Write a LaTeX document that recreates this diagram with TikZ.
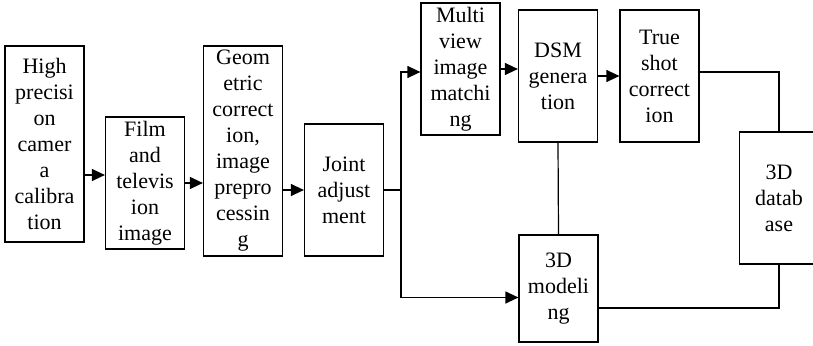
\documentclass[tikz,border=0pt]{standalone}
\usepackage{fontspec}
\setmainfont{Liberation Serif}
\usepackage{tikz}
\usetikzlibrary{arrows.meta,positioning}
\tikzstyle{blk} = [draw, line width=1.2pt, inner sep=0pt, minimum width=79pt, minimum height=132pt, align=center, font=\fontsize{22}{26}\selectfont]
\tikzstyle{arrow} = [line width=1.2pt, -{Triangle[length=13pt,width=12pt]}]
\tikzstyle{link} = [line width=1.2pt]

\begin{document}
\begin{tikzpicture}[x=1pt, y=-1pt]
\useasboundingbox (0,0) rectangle (813,345);
% Upper chain of processing steps
\node[blk, minimum height=196pt] (calib) at (44.5,144) {High\\precisi\\on\\camer\\a\\calibra\\tion};
\node[blk] (film) at (145,183) {Film\\and\\televis\\ion\\image};
\node[blk, minimum height=210pt] (geo) at (243,151) {Geom\\etric\\correct\\ion,\\image\\prepro\\cessin\\g};
\node[blk] (joint) at (344,190) {Joint\\adjust\\ment};
\node[blk] (multi) at (460.5,69) {Multi\\view\\image\\matchi\\ng};
\node[blk] (dsm) at (558,76) {DSM\\genera\\tion};
\node[blk] (trueshot) at (659.5,76) {True\\shot\\correct\\ion};

% Right and lower boxes
\node[blk] (db) at (779,198) {3D\\datab\\ase};
\node[blk, minimum height=107pt] (model) at (558.5,288.5) {3D\\modeli\\ng};

% Connectors
\coordinate (split) at (401,190);
\draw[arrow] ([yshift=-31pt]calib.east) -- ([yshift=-31pt]calib.east -| film.west);
\draw[arrow] (film.east) -- (film.east -| geo.west);
\draw[arrow] (joint.west -| geo.east) -- (joint.west);
\draw[link] (joint.east) -- (split);
\draw[arrow] (split) |- ([yshift=-3pt]multi.west);
\draw[arrow] (split) |- ([yshift=-9pt]model.west);
\draw[arrow] (multi.east) -- (multi.east -| dsm.west);
\draw[arrow] (dsm.east) -- (trueshot.west);
\draw[link] ([yshift=4pt]trueshot.east) -| (db.north);
\draw[link] (dsm.south) -- (model.north);
\draw[link] ([yshift=-19.5pt]model.east) -| (db.south);
\end{tikzpicture}
\end{document}
